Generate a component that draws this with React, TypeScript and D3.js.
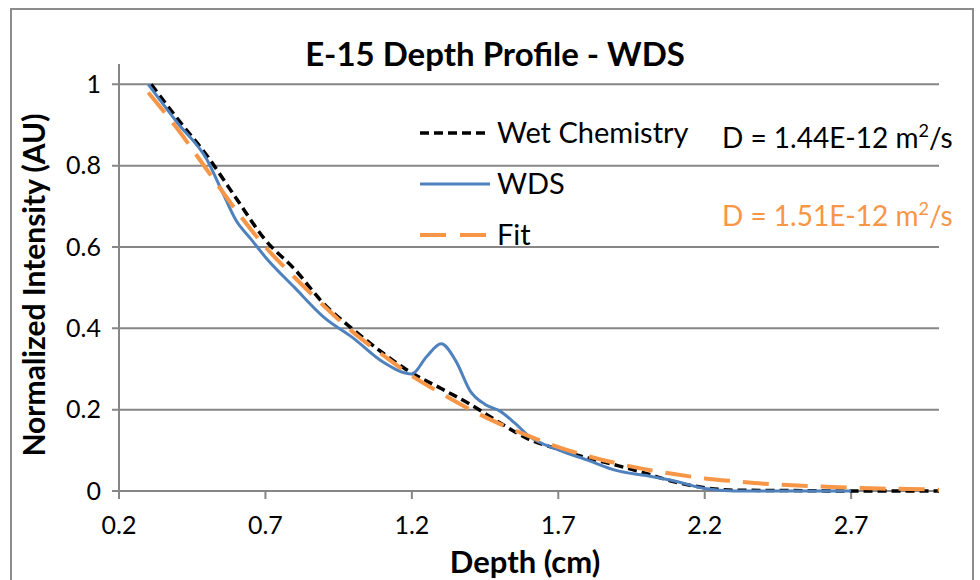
import React from 'react';
import * as d3 from 'd3';

// depth (cm) and normalized intensity
const wetX = [0.31, 0.4, 0.5, 0.6, 0.7, 0.8, 0.9, 1.0, 1.1, 1.2, 1.3, 1.4, 1.5, 1.6, 1.7, 1.8, 1.9, 2.0, 2.1, 2.2, 2.3, 2.5, 2.7, 3.0];
const wetY = [1.0, 0.915, 0.825, 0.72, 0.617, 0.545, 0.46, 0.397, 0.34, 0.29, 0.252, 0.213, 0.168, 0.127, 0.103, 0.081, 0.063, 0.043, 0.022, 0.008, 0.002, 0.001, 0, 0];

const wdsX = [0.3, 0.4, 0.5, 0.55, 0.6, 0.65, 0.7, 0.8, 0.9, 1.0, 1.1, 1.2, 1.25, 1.3, 1.35, 1.4, 1.45, 1.5, 1.55, 1.6, 1.7, 1.8, 1.9, 2.0, 2.1, 2.2, 2.3, 2.5, 2.7];
const wdsY = [1.0, 0.905, 0.815, 0.74, 0.665, 0.62, 0.575, 0.5, 0.427, 0.376, 0.318, 0.288, 0.33, 0.362, 0.32, 0.245, 0.213, 0.197, 0.168, 0.135, 0.101, 0.076, 0.05, 0.038, 0.024, 0.006, 0, 0, 0];

const fitX = [0.3, 0.4, 0.5, 0.6, 0.7, 0.8, 0.9, 1.0, 1.1, 1.2, 1.3, 1.4, 1.5, 1.6, 1.7, 1.8, 1.9, 2.0, 2.1, 2.2, 2.3, 2.4, 2.5, 2.6, 2.7, 2.8, 2.9, 3.0];
const fitY = [0.98, 0.89, 0.79, 0.69, 0.6, 0.525, 0.455, 0.39, 0.335, 0.283, 0.24, 0.2, 0.165, 0.135, 0.108, 0.086, 0.068, 0.053, 0.041, 0.031, 0.024, 0.018, 0.014, 0.011, 0.008, 0.006, 0.005, 0.003];

const xTicks = [0.2, 0.7, 1.2, 1.7, 2.2, 2.7];
const yTicks = [0, 0.2, 0.4, 0.6, 0.8, 1];

const font = 'Lato, "Open Sans", sans-serif';
const grid = '#868686';

export default function App() {
  const x = d3.scaleLinear().domain([0.2, 3.0]).range([119, 939]);
  const y = d3.scaleLinear().domain([0, 1.05]).range([491, 64]);

  const line = d3.line<[number, number]>()
    .x(d => x(d[0]))
    .y(d => y(d[1]))
    .curve(d3.curveMonotoneX);

  const wet = line(wetX.map((v, i) => [v, wetY[i]]));
  const wds = line(wdsX.map((v, i) => [v, wdsY[i]]));
  const fit = line(fitX.map((v, i) => [v, fitY[i]]));

  return (
    <svg width={980} height={580} style={{ position: 'absolute', left: 0, top: 0, background: '#fff' }}>
      <rect x={11} y={9} width={962} height={600} fill="none" stroke="#8c8c8c" strokeWidth={2} />

      <text x={495} y={66} textAnchor="middle" fontFamily={font} fontWeight="bold" fontSize={33}>E-15 Depth Profile - WDS</text>

      {/* gridlines + y ticks */}
      {yTicks.map(t => (
        <g key={t}>
          <line x1={112} x2={939} y1={y(t)} y2={y(t)} stroke={grid} strokeWidth={2} />
          <text x={101} y={y(t)} dy="0.35em" textAnchor="end" fontFamily={font} fontSize={25}>{t}</text>
        </g>
      ))}
      <line x1={x(0.2)} x2={x(0.2)} y1={y(1.05)} y2={y(0)} stroke={grid} strokeWidth={2} />

      {xTicks.map(t => (
        <g key={t}>
          <line x1={x(t)} x2={x(t)} y1={y(0)} y2={y(0) + 8} stroke={grid} strokeWidth={2} />
          <text x={x(t)} y={534} textAnchor="middle" fontFamily={font} fontSize={25}>{t}</text>
        </g>
      ))}

      <path d={wet ?? ''} fill="none" stroke="#000" strokeWidth={3.5} strokeDasharray="9,5" />
      <path d={wds ?? ''} fill="none" stroke="#4F81BD" strokeWidth={3} />
      <path d={fit ?? ''} fill="none" stroke="#F79646" strokeWidth={4} strokeDasharray="26,13" />

      {/* legend */}
      <line x1={420} x2={490} y1={133} y2={133} stroke="#000" strokeWidth={3.5} strokeDasharray="9,5" />
      <text x={497} y={133} dy="0.35em" fontFamily={font} fontSize={29}>Wet Chemistry</text>
      <line x1={420} x2={490} y1={184} y2={184} stroke="#4F81BD" strokeWidth={3} />
      <text x={497} y={184} dy="0.35em" fontFamily={font} fontSize={29}>WDS</text>
      <line x1={420} x2={490} y1={235} y2={235} stroke="#F79646" strokeWidth={4} strokeDasharray="26,14" />
      <text x={497} y={235} dy="0.35em" fontFamily={font} fontSize={29}>Fit</text>

      <text x={722} y={148} fontFamily={font} fontSize={28}>
        D = 1.44E-12 m<tspan dy={-11} fontSize={18}>2</tspan><tspan dy={11}>/s</tspan>
      </text>
      <text x={722} y={226} fontFamily={font} fontSize={28} fill="#F79646">
        D = 1.51E-12 m<tspan dy={-11} fontSize={18}>2</tspan><tspan dy={11}>/s</tspan>
      </text>

      <text transform="translate(45,285) rotate(-90)" textAnchor="middle" fontFamily={font} fontWeight="bold" fontSize={30}>Normalized Intensity (AU)</text>
      <text x={525} y={573} textAnchor="middle" fontFamily={font} fontWeight="bold" fontSize={31}>Depth (cm)</text>
    </svg>
  );
}
